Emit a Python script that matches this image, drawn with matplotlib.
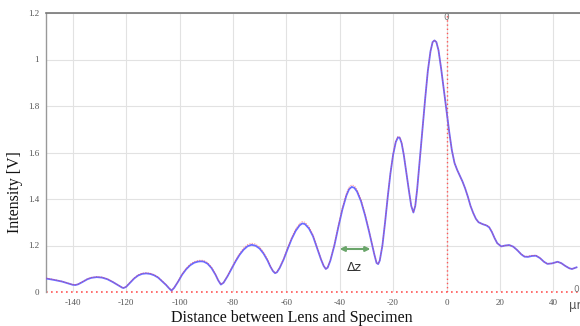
import matplotlib
matplotlib.use("Agg")
import matplotlib.pyplot as plt

# ---- data ----
x_vals = [-150, -147, -144, -141.5, -140, -139, -138, -136.5, -134.5, -133,
          -131, -129, -127, -125, -123, -121.5, -121, -120, -118.5, -117,
          -115.5, -114, -112.5, -111, -109.5, -108, -106.5, -105, -104, -103,
          -102, -100.5, -99, -97.5, -96, -94.5, -93, -92, -91, -89.5,
          -88, -86.5, -85.5, -84.5, -83.5, -82, -80.5, -79, -77.5, -76,
          -74.5, -73, -71.5, -70, -68.5, -67, -66, -65, -64.2, -63.5,
          -62.5, -61, -59.5, -58, -56.5, -55, -54, -53, -51.5, -50,
          -48.5, -47, -46, -45.2, -44.5, -43.5, -42, -40.5, -39, -37.5,
          -36.5, -35.5, -34.5, -33.5, -32, -30.5, -29, -28, -27, -26.2,
          -25.6, -25, -24, -23, -22, -21, -20, -19, -18.2, -17.5,
          -16.8, -16, -15, -14, -13.2, -12.4, -11.7, -11, -10, -9,
          -8, -7, -6, -5.2, -4.5, -3.8, -3, -2, -1, 0,
          1, 2, 3, 4, 5, 6, 7, 8, 9, 10,
          11, 12, 13.5, 15, 16, 17, 18, 19, 20.5, 22,
          23.5, 25, 26.5, 28, 29.2, 30.5, 32, 33.5, 35, 36.5,
          37.8, 39.5, 41.6, 43, 44.5, 46, 47, 48.7]
blue_vals = [0.058, 0.052, 0.045, 0.036, 0.031, 0.030, 0.033, 0.042, 0.055, 0.061,
             0.064, 0.062, 0.055, 0.043, 0.029, 0.019, 0.017, 0.022, 0.040, 0.058,
             0.071, 0.078, 0.080, 0.078, 0.072, 0.062, 0.046, 0.030, 0.017, 0.006,
             0.018, 0.045, 0.075, 0.098, 0.115, 0.126, 0.131, 0.132, 0.131, 0.122,
             0.103, 0.074, 0.050, 0.032, 0.040, 0.068, 0.100, 0.132, 0.160, 0.182,
             0.197, 0.203, 0.199, 0.187, 0.165, 0.135, 0.110, 0.090, 0.081, 0.085,
             0.103, 0.140, 0.185, 0.228, 0.263, 0.287, 0.295, 0.292, 0.273, 0.240,
             0.190, 0.140, 0.112, 0.099, 0.105, 0.135, 0.200, 0.280, 0.355, 0.415,
             0.442, 0.452, 0.448, 0.432, 0.390, 0.330, 0.260, 0.210, 0.160, 0.125,
             0.120, 0.135, 0.200, 0.300, 0.410, 0.510, 0.590, 0.645, 0.665, 0.663,
             0.640, 0.590, 0.510, 0.430, 0.370, 0.342, 0.370, 0.440, 0.570, 0.700,
             0.830, 0.950, 1.035, 1.075, 1.082, 1.075, 1.040, 0.960, 0.870, 0.780,
             0.690, 0.610, 0.555, 0.525, 0.500, 0.475, 0.445, 0.410, 0.370, 0.340,
             0.315, 0.300, 0.292, 0.286, 0.278, 0.258, 0.232, 0.210, 0.196, 0.200,
             0.202, 0.195, 0.180, 0.162, 0.152, 0.151, 0.155, 0.156, 0.146, 0.130,
             0.121, 0.123, 0.130, 0.124, 0.112, 0.102, 0.099, 0.106]
red_vals = [0.060, 0.054, 0.046, 0.037, 0.032, 0.031, 0.034, 0.044, 0.057, 0.063,
            0.066, 0.064, 0.057, 0.044, 0.030, 0.020, 0.018, 0.023, 0.042, 0.060,
            0.074, 0.081, 0.083, 0.081, 0.075, 0.064, 0.048, 0.031, 0.018, 0.007,
            0.019, 0.047, 0.078, 0.102, 0.120, 0.131, 0.136, 0.137, 0.136, 0.127,
            0.107, 0.077, 0.052, 0.033, 0.041, 0.071, 0.104, 0.137, 0.166, 0.189,
            0.204, 0.210, 0.206, 0.194, 0.171, 0.140, 0.113, 0.092, 0.082, 0.087,
            0.106, 0.144, 0.191, 0.235, 0.271, 0.295, 0.303, 0.300, 0.281, 0.247,
            0.195, 0.143, 0.114, 0.100, 0.107, 0.138, 0.205, 0.287, 0.363, 0.424,
            0.451, 0.461, 0.457, 0.441, 0.398, 0.336, 0.265, 0.213, 0.162, 0.126,
            0.121, 0.136, 0.202, 0.303, 0.414, 0.514, 0.594, 0.649, 0.669, 0.667,
            0.644, 0.593, 0.512, 0.431, 0.371, 0.343, 0.371, 0.441, 0.571, 0.701,
            0.831, 0.951, 1.036, 1.076, 1.083, 1.076, 1.041, 0.961, 0.870, 0.780,
            0.690, 0.610, 0.555, 0.525, 0.500, 0.475, 0.445, 0.410, 0.370, 0.340,
            0.315, 0.300, 0.292, 0.288, 0.280, 0.259, 0.232, 0.210, 0.196, 0.200,
            0.202, 0.195, 0.180, 0.163, 0.154, 0.154, 0.158, 0.158, 0.147, 0.130,
            0.121, 0.123, 0.130, 0.124, 0.112, 0.102, 0.099, 0.106]
x_ticks = [-140, -120, -100, -80, -60, -40, -20, 0, 20, 40]
y_ticks = [0, 0.2, 0.4, 0.6, 0.8, 1.0, 1.2]
y_tick_labels = ["0", "1.2", "1.4", "1.6", "1.8", "1", "1.2"]
dz_range = [-40, -28.5]

W, H = 580, 326
fig = plt.figure(figsize=(W / 100, H / 100), dpi=100)
ax = fig.add_axes([46 / W, (H - 292) / H, (W - 46) / W, 279 / H])

ax.set_xlim(-150, 50)
ax.set_ylim(0, 1.2)
ax.grid(True, color="#e2e2e2", linewidth=0.8)
ax.set_axisbelow(True)

ax.plot(x_vals, blue_vals, color="#6b6bff", linewidth=1.3, zorder=3,
        solid_joinstyle="round")
ax.plot(x_vals, red_vals, color="#ff3b3b", linewidth=0.6, alpha=0.6,
        linestyle=(0, (1.5, 1.5)), zorder=4)

# zero markers
ax.axvline(0, color="#ff5555", linewidth=1.0, linestyle=(0, (1, 2)), zorder=2)
ax.axhline(0, color="#ff5555", linewidth=1.2, linestyle=(0, (1, 2)), zorder=2, clip_on=False)

# delta z annotation
ax.annotate("", xy=(dz_range[0], 0.185), xytext=(dz_range[1], 0.185),
            arrowprops=dict(arrowstyle="<|-|>", color="#6aa56a", lw=1.5,
                            mutation_scale=7, shrinkA=0, shrinkB=0), zorder=5)
ax.text(-34.5, 0.105, "Δz", fontsize=9, color="#333333", ha="center", va="center",
        family="DejaVu Sans")

ax.text(0, 1.18, "0", fontsize=6.5, color="#777777", ha="center", va="center")

# ticks
ax.set_xticks(x_ticks)
ax.set_xticklabels([str(t) for t in x_ticks])
ax.set_yticks(y_ticks)
ax.set_yticklabels(y_tick_labels)
ax.tick_params(length=0, labelsize=6.5, labelcolor="#555555", pad=5)
for lab in ax.get_xticklabels() + ax.get_yticklabels():
    lab.set_family("Liberation Serif")

for s in ["right", "bottom"]:
    ax.spines[s].set_visible(False)
ax.spines["top"].set_color("#777777")
ax.spines["top"].set_linewidth(1.2)
ax.spines["left"].set_color("#999999")
ax.spines["left"].set_linewidth(1.0)

fig.text(576 / W, 1 - 290 / H, "0", fontsize=6.5, color="#777777", ha="center", va="center")
fig.text(569 / W, 1 - 305 / H, "μm", fontsize=8.5, color="#555555", ha="left", va="center")

fig.text(292 / W, 1 - 318 / H, "Distance between Lens and Specimen", fontsize=11.5,
         family="Liberation Serif", ha="center", va="center", color="#111111")
fig.text(15 / W, 1 - 192 / H, "Intensity [V]", fontsize=11.5, family="Liberation Serif",
         ha="center", va="center", rotation=90, color="#111111")

fig.savefig("out.png", dpi=100)
